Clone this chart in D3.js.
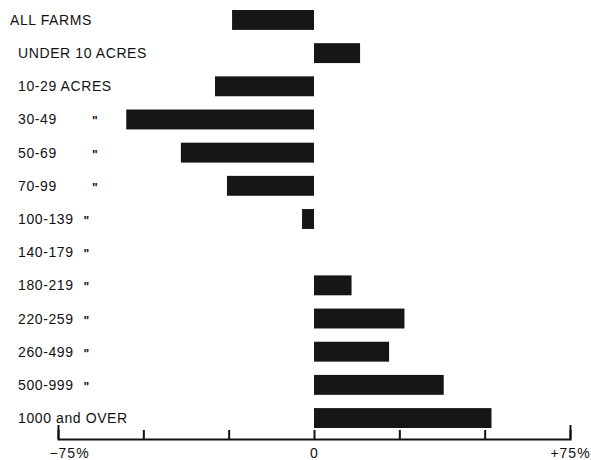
<!doctype html>
<html>
    <head>
        <meta charset="utf-8">
        <script src="https://cdn.jsdelivr.net/npm/d3@7"></script>
        <style>
            html, body {
                margin: 0;
                padding: 0;
                background: #fff;
            }

            #viz {
                position: absolute;
                top: 0px;
                left: 0px;
                width: 591px;
                height: 460px;
            }

            #viz text {
                font-family: "Liberation Sans", Arial, sans-serif;
                fill: #111;
            }
        </style>
        <script>
            // size classes and % change
            var categories = ["ALL FARMS", "UNDER 10 ACRES", "10-29 ACRES", "30-49", "50-69", "70-99",
                "100-139", "140-179", "180-219", "220-259", "260-499", "500-999", "1000 and OVER"];
            var changes = [-24, 13.5, -29, -55, -39, -25.5, -3.5, 0, 11, 26.5, 22, 38, 52];
            // rows that carry a ditto mark after the label
            var ditto = [false, false, false, true, true, true, true, true, true, true, true, true, false];
            var tickValues = [-75, -50, -25, 0, 25, 50, 75];
            var tickLabels = {"-75": "\u221275%", "0": "0", "75": "+75%"};

            var renderChart = function () {
                var w = 591;
                var h = 460;

                var svg = d3.select("#viz").append("svg")
                    .attr("width", w)
                    .attr("height", h);

                var x = d3.scaleLinear()
                    .domain([-75, 75])
                    .range([58, 570]);

                var y = d3.scaleBand()
                    .domain(categories)
                    .range([10, 428])
                    .paddingInner(0.4)
                    .paddingOuter(0);

                var rows = svg.selectAll("g.row")
                    .data(categories)
                    .enter()
                    .append("g")
                        .attr("class", "row");

                rows.append("rect")
                    .attr("x", function (d, i) {
                        return Math.min(x(0), x(changes[i]));
                    })
                    .attr("y", function (d) {
                        return y(d);
                    })
                    .attr("width", function (d, i) {
                        return Math.abs(x(changes[i]) - x(0));
                    })
                    .attr("height", y.bandwidth())
                    .attr("fill", "#161616");

                var labels = rows.append("text")
                    .attr("x", function (d, i) {
                        return i === 0 ? 10 : 18;
                    })
                    .attr("y", function (d) {
                        return y(d) + y.bandwidth() / 2 + 5;
                    })
                    .attr("font-size", 14)
                    .attr("letter-spacing", 0.6)
                    .text(function (d) {
                        return d;
                    });

                // ditto marks, lined up after the short labels
                labels.each(function (d, i) {
                    if (!ditto[i]) return;
                    var len = this.getComputedTextLength();
                    var lx = +d3.select(this).attr("x");
                    var dx = d.length <= 5 ? 92 : lx + len + 10;
                    d3.select(this.parentNode).append("text")
                        .attr("x", dx)
                        .attr("y", y(d) + y.bandwidth() / 2 + 6)
                        .attr("font-size", 12)
                        .attr("font-weight", "bold")
                        .text("\"");
                });

                var axis = d3.axisBottom(x)
                    .tickValues(tickValues)
                    .tickSizeInner(-9)
                    .tickSizeOuter(-14)
                    .tickPadding(9)
                    .tickFormat(function (d) {
                        return tickLabels[d] || "";
                    });

                var g = svg.append("g")
                    .attr("transform", "translate(0,439)")
                    .call(axis);

                g.select(".domain")
                    .attr("stroke", "#111")
                    .attr("stroke-width", 2);
                g.selectAll(".tick line")
                    .attr("stroke", "#111")
                    .attr("stroke-width", 2);
                g.selectAll(".tick text")
                    .attr("font-size", 14)
                    .attr("letter-spacing", 1)
                    .attr("dx", function (d) {
                        return d === -75 ? 11 : 0;
                    });
            };

            document.addEventListener("DOMContentLoaded", renderChart);
        </script>
    </head>
    <body>
        <div id="viz"></div>
    </body>
</html>
